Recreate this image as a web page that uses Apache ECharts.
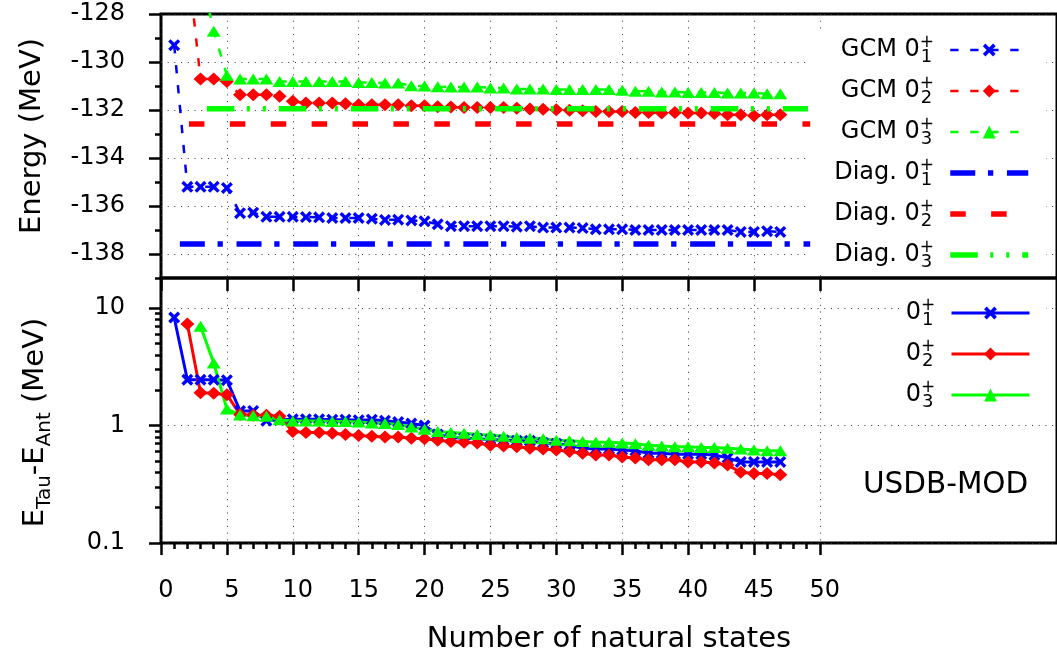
<!DOCTYPE html>
<html>
<head>
<meta charset="utf-8">
<title>GCM energies vs number of natural states</title>
<script src="https://cdn.jsdelivr.net/npm/echarts@6/dist/echarts.min.js"></script>
<style>
  html, body { margin: 0; padding: 0; background: #fff; }
  #main { width: 1057px; height: 664px; }
</style>
</head>
<body>
<div id="main"></div>
<script>
// number of natural states
const states = [1, 2, 3, 4, 5, 6, 7, 8, 9, 10, 11, 12, 13, 14, 15, 16, 17, 18, 19, 20,
  21, 22, 23, 24, 25, 26, 27, 28, 29, 30, 31, 32, 33, 34, 35, 36, 37, 38, 39, 40,
  41, 42, 43, 44, 45, 46, 47];

// GCM energies (MeV), null = no point
const gcm1 = [-129.3, -135.2, -135.2, -135.2, -135.25, -136.3, -136.28, -136.45, -136.45, -136.45,
  -136.46, -136.47, -136.5, -136.5, -136.5, -136.53, -136.58, -136.57, -136.6, -136.64,
  -136.76, -136.84, -136.84, -136.84, -136.84, -136.84, -136.86, -136.84, -136.9, -136.9,
  -136.9, -136.92, -136.97, -136.97, -136.97, -137.0, -137.0, -137.0, -137.0, -137.0,
  -137.0, -137.0, -137.0, -137.08, -137.08, -137.05, -137.08];
const gcm2 = [null, -125.7, -130.71, -130.71, -130.81, -131.36, -131.36, -131.36, -131.43, -131.64,
  -131.71, -131.71, -131.71, -131.74, -131.78, -131.78, -131.78, -131.78, -131.82, -131.82,
  -131.86, -131.88, -131.9, -131.9, -131.9, -131.9, -131.93, -131.96, -131.97, -131.99,
  -132.01, -132.03, -132.06, -132.06, -132.06, -132.1, -132.1, -132.13, -132.1, -132.13,
  -132.13, -132.15, -132.2, -132.2, -132.24, -132.2, -132.2];
const gcm3 = [null, null, -126.2, -128.72, -130.55, -130.71, -130.71, -130.71, -130.81, -130.81,
  -130.81, -130.81, -130.81, -130.81, -130.85, -130.85, -130.88, -130.88, -130.99, -131.0,
  -131.03, -131.04, -131.04, -131.04, -131.08, -131.08, -131.13, -131.13, -131.13, -131.15,
  -131.15, -131.15, -131.15, -131.15, -131.18, -131.22, -131.22, -131.25, -131.25, -131.27,
  -131.27, -131.27, -131.29, -131.29, -131.29, -131.32, -131.32];

// exact diagonalisation energies and where their lines start / stop
const diagEnergy = [-137.58, -132.58, -131.95];
const diagFrom = [1.43, 2.12, 3.48];
const diagTo = [49.35, 49.35, 49.1];

// E_Tau - E_Ant (MeV)
const diff1 = [8.3, 2.45, 2.45, 2.45, 2.43, 1.33, 1.33, 1.1, 1.12, 1.13,
  1.13, 1.13, 1.12, 1.12, 1.11, 1.12, 1.1, 1.07, 1.04, 1.0,
  0.84, 0.79, 0.78, 0.77, 0.76, 0.75, 0.74, 0.74, 0.71, 0.70,
  0.68, 0.64, 0.63, 0.63, 0.62, 0.61, 0.58, 0.58, 0.57, 0.57,
  0.57, 0.56, 0.53, 0.49, 0.49, 0.49, 0.49];
const diff2 = [null, 7.3, 1.9, 1.88, 1.83, 1.24, 1.22, 1.22, 1.2, 0.89,
  0.87, 0.87, 0.86, 0.84, 0.82, 0.81, 0.8, 0.8, 0.78, 0.77,
  0.75, 0.73, 0.72, 0.71, 0.68, 0.67, 0.66, 0.64, 0.63, 0.62,
  0.6, 0.58, 0.56, 0.56, 0.54, 0.53, 0.51, 0.51, 0.51, 0.49,
  0.49, 0.48, 0.46, 0.4, 0.39, 0.39, 0.38];
const diff3 = [null, null, 7.0, 3.4, 1.38, 1.23, 1.21, 1.2, 1.12, 1.09,
  1.09, 1.09, 1.08, 1.08, 1.07, 1.05, 1.04, 1.02, 0.97, 0.93,
  0.89, 0.87, 0.86, 0.84, 0.83, 0.81, 0.79, 0.78, 0.77, 0.75,
  0.74, 0.73, 0.72, 0.72, 0.71, 0.7, 0.68, 0.67, 0.66, 0.66,
  0.65, 0.65, 0.64, 0.63, 0.62, 0.61, 0.61];

// tick values
const xMajor = [0, 5, 10, 15, 20, 25, 30, 35, 40, 45, 50];
const xMinor = [1, 2, 3, 4, 6, 7, 8, 9, 11, 12, 13, 14, 16, 17, 18, 19, 21, 22, 23, 24,
  26, 27, 28, 29, 31, 32, 33, 34, 36, 37, 38, 39, 41, 42, 43, 44, 46, 47, 48, 49];
const eMajor = [-138, -136, -134, -132, -130, -128];
const eMinor = [-139, -137, -135, -133, -131, -129];
const logMajor = [0.1, 1, 10];
const logMinor = [0.2, 0.3, 0.4, 0.5, 0.6, 0.7, 0.8, 0.9, 2, 3, 4, 5, 6, 7, 8, 9];

const gcmNames = ['GCM 0_1', 'GCM 0_2', 'GCM 0_3'];
const diagNames = ['Diag. 0_1', 'Diag. 0_2', 'Diag. 0_3'];
const diffNames = ['0_1', '0_2', '0_3'];

const FONT = 'DejaVu Sans';
const colors = ['#0000ff', '#ff0000', '#00ff00'];
const crossPath = 'path://M0,2L2,0L5,3L8,0L10,2L7,5L10,8L8,10L5,7L2,10L0,8L3,5Z';
const symbols = [crossPath, 'diamond', 'triangle'];
const symbolSizes = [[12, 12], [14, 13], [14, 11]];
const gcmDash = [8.3, 11.7];
const diagDash = [[25, 12.7, 5.3, 13.7], [15.5, 25.4], [27.5, 12.5, 3, 13, 3, 13]];

const pairs = vals => states.map((x, i) => [x, vals[i]]).filter(p => p[1] != null);

const dotted = {color: '#333', width: 1, type: [1, 5.7]};
const tickLine = {color: '#000', width: 2.5};

// legend label: text, then 0 with stacked + and index
function legendLabel(name) {
  const m = name.match(/^(.*)0_(\d)$/);
  return '{a|' + m[1] + '0}{p|+}{b|' + m[2] + '}{g| }';
}
const legendText = {
  fontFamily: FONT, fontSize: 24, color: '#000',
  rich: {
    a: {fontFamily: FONT, fontSize: 24, lineHeight: 32, color: '#000', align: 'left'},
    p: {fontFamily: FONT, fontSize: 17, lineHeight: 18, width: 1, verticalAlign: 'top', color: '#000', align: 'left'},
    b: {fontFamily: FONT, fontSize: 18, lineHeight: 18, verticalAlign: 'bottom', color: '#000', align: 'left'},
    g: {fontSize: 10, width: 13, align: 'left'}
  }
};

const series = [];
[gcm1, gcm2, gcm3].forEach((vals, i) => {
  series.push({
    name: gcmNames[i], type: 'line', xAxisIndex: 0, yAxisIndex: 0,
    data: pairs(vals),
    symbol: symbols[i], symbolSize: symbolSizes[i],
    lineStyle: {color: colors[i], width: 2.5, type: gcmDash},
    itemStyle: {color: colors[i], borderWidth: 0},
    clip: true, z: 2
  });
});
diagEnergy.forEach((e, i) => {
  series.push({
    name: diagNames[i], type: 'line', xAxisIndex: 0, yAxisIndex: 0,
    data: [[diagFrom[i], e], [diagTo[i], e]],
    symbol: 'none',
    lineStyle: {color: colors[i], width: 5.5, type: diagDash[i]},
    itemStyle: {color: colors[i]},
    clip: true, z: 3
  });
});
[diff1, diff2, diff3].forEach((vals, i) => {
  series.push({
    name: diffNames[i], type: 'line', xAxisIndex: 1, yAxisIndex: 2,
    data: pairs(vals),
    symbol: symbols[i], symbolSize: symbolSizes[i],
    lineStyle: {color: colors[i], width: 3},
    itemStyle: {color: colors[i], borderWidth: 0},
    clip: true, z: 2
  });
});

const chart = echarts.init(document.getElementById('main'), null, {renderer: 'canvas'});

chart.setOption({
  animation: false,
  backgroundColor: '#fff',
  grid: [
    {left: 161, top: 14, right: -10, height: 264, show: true, borderColor: '#000', borderWidth: 3},
    {left: 161, top: 278, right: -10, height: 265, show: true, borderColor: '#000', borderWidth: 3}
  ],
  xAxis: [
    {
      gridIndex: 0, type: 'value', position: 'bottom', min: 0, max: 68, interval: 5,
      axisLine: {show: false},
      axisTick: {show: true, inside: false, length: 13, customValues: xMajor, lineStyle: tickLine},
      axisLabel: {show: false},
      splitLine: {show: true, lineStyle: dotted}
    },
    {
      gridIndex: 1, type: 'value', position: 'bottom', min: 0, max: 68, interval: 5,
      axisLine: {show: false},
      axisTick: {show: true, inside: false, length: 12, customValues: xMajor, lineStyle: tickLine},
      axisLabel: {
        show: true, customValues: xMajor, margin: 36, padding: [0, 0, 0, 10],
        fontFamily: FONT, fontSize: 24, color: '#000'
      },
      splitLine: {show: true, lineStyle: dotted},
      name: 'Number of natural states', nameLocation: 'middle', nameGap: 82,
      nameTextStyle: {fontFamily: FONT, fontSize: 29, color: '#000'}
    },
    {
      gridIndex: 1, type: 'value', position: 'bottom', min: 0, max: 68, interval: 5,
      axisLine: {show: false},
      axisTick: {show: true, inside: false, length: 6, customValues: xMinor, lineStyle: tickLine},
      axisLabel: {show: false},
      splitLine: {show: false}
    }
  ],
  yAxis: [
    {
      gridIndex: 0, type: 'value', position: 'left', min: -139, max: -128,
      axisLine: {show: false},
      axisTick: {show: true, inside: false, length: 12, customValues: eMajor, lineStyle: tickLine},
      axisLabel: {
        show: true, customValues: eMajor, margin: 36,
        fontFamily: FONT, fontSize: 24, color: '#000'
      },
      splitLine: {show: true, lineStyle: dotted},
      name: 'Energy (MeV)', nameLocation: 'middle', nameGap: 114, nameRotate: 90,
      nameTextStyle: {fontFamily: FONT, fontSize: 29, color: '#000', padding: [0, 0, 0, 20]}
    },
    {
      gridIndex: 0, type: 'value', position: 'left', min: -139, max: -128,
      axisLine: {show: false},
      axisTick: {show: true, inside: false, length: 6, customValues: eMinor, lineStyle: tickLine},
      axisLabel: {show: false},
      splitLine: {show: false}
    },
    {
      gridIndex: 1, type: 'log', logBase: 10, position: 'left', min: 0.1, max: 18,
      axisLine: {show: false},
      axisTick: {show: true, inside: false, length: 12, customValues: logMajor, lineStyle: tickLine},
      axisLabel: {
        show: true, customValues: logMajor, margin: 36,
        formatter: v => String(Number(Number(v).toPrecision(2))),
        fontFamily: FONT, fontSize: 24, color: '#000'
      },
      splitLine: {show: true, lineStyle: dotted},
      name: '{m|E}{s|Tau}{m|-E}{s|Ant}{m| (MeV)}', nameLocation: 'middle', nameGap: 106, nameRotate: 90,
      nameTextStyle: {
        fontFamily: FONT, fontSize: 29, color: '#000', padding: [0, 24, 0, 0],
        rich: {
          m: {fontFamily: FONT, fontSize: 29, lineHeight: 40, color: '#000'},
          s: {fontFamily: FONT, fontSize: 20, lineHeight: 21, verticalAlign: 'bottom', color: '#000'}
        }
      }
    },
    {
      gridIndex: 1, type: 'log', logBase: 10, position: 'left', min: 0.1, max: 18,
      axisLine: {show: false},
      axisTick: {show: true, inside: false, length: 6, customValues: logMinor, lineStyle: tickLine},
      axisLabel: {show: false},
      splitLine: {show: false}
    }
  ],
  legend: [
    {
      orient: 'vertical', align: 'right', right: 11, top: 30,
      padding: [4, 15, 4, 24], itemGap: 9, itemWidth: 78, itemHeight: 16,
      backgroundColor: '#fff', selectedMode: false,
      formatter: legendLabel, textStyle: legendText,
      data: [
        ...gcmNames.map(n => ({name: n, lineStyle: {width: 2.5, type: gcmDash}, itemStyle: {borderWidth: 0}})),
        ...diagNames.map((n, i) => ({name: n, lineStyle: {width: 5.5, type: diagDash[i]}, itemStyle: {opacity: 0, borderWidth: 0}}))
      ]
    },
    {
      orient: 'vertical', align: 'right', right: 11, top: 293,
      padding: [4, 15, 4, 4], itemGap: 9, itemWidth: 78, itemHeight: 16,
      backgroundColor: '#fff', selectedMode: false,
      formatter: legendLabel, textStyle: legendText,
      data: diffNames.map(n => ({name: n, lineStyle: {width: 3, type: 'solid'}, itemStyle: {borderWidth: 0}}))
    }
  ],
  graphic: [
    {
      type: 'text', left: 863, top: 470,
      style: {text: 'USDB-MOD', fontFamily: FONT, fontSize: 29.5, fill: '#000'}
    }
  ],
  series: series
});
</script>
</body>
</html>
